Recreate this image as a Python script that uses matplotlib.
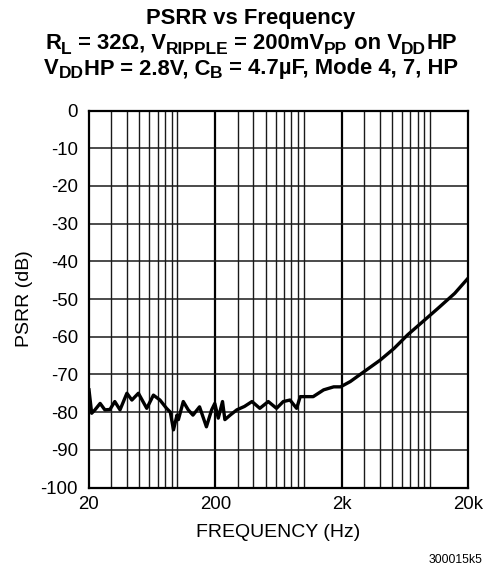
import numpy as np
import matplotlib
matplotlib.use("Agg")
import matplotlib.pyplot as plt
from matplotlib.ticker import FixedLocator, NullFormatter

# === DATA ===
freq_hz = [20, 21, 22.3, 24.5, 26.7, 29.3, 32, 35.2, 39.9, 43.7, 49.2, 57.3, 64.7,
           72.9, 82.2, 88, 93.3, 99.4, 102, 111.5, 122, 133, 150, 170, 187, 198,
           211, 228, 238, 262, 296, 340, 390, 450, 525, 610, 690, 780, 880, 940,
           1090, 1190, 1440, 1730, 1960, 2340, 3000, 4040, 5200, 6660, 8500,
           11550, 15700, 20000]
psrr_db = [-74.1, -80.3, -79.4, -77.7, -79.4, -79.3, -77.2, -79.4, -75.0, -76.8,
           -75.0, -79.0, -75.5, -76.8, -79.0, -80.0, -84.7, -80.8, -82.0, -77.2,
           -79.4, -80.8, -78.6, -83.9, -79.4, -77.7, -81.6, -77.2, -82.0, -80.8,
           -79.4, -78.5, -77.2, -79.0, -77.2, -79.0, -77.2, -76.8, -79.0, -75.9,
           -75.9, -75.9, -74.1, -73.3, -73.3, -71.9, -69.3, -66.2, -63.1, -59.5,
           -56.4, -52.5, -48.5, -44.5]

x_ticks = [20, 200, 2000, 20000]
x_ticklabels = ["20", "200", "2k", "20k"]
y_ticks = list(range(-100, 1, 10))

title_lines = [
    [("PSRR vs Frequency", False)],
    [("R", False), ("L", True), (" = 32Ω, V", False), ("RIPPLE", True),
     (" = 200mV", False), ("PP", True), (" on V", False), ("DD", True), ("HP", False)],
    [("V", False), ("DD", True), ("HP = 2.8V, C", False), ("B", True),
     (" = 4.7µF, Mode 4, 7, HP", False)],
]

# === STYLE ===
plt.rcParams["font.family"] = ["Liberation Sans", "DejaVu Sans"]

fig = plt.figure(figsize=(4.95, 5.8), dpi=100)
ax = fig.add_axes([89 / 495, 1 - 487.5 / 580, (468 - 89) / 495, (487.5 - 110.5) / 580])

ax.set_xscale("log")
ax.set_xlim(20, 20000)
ax.set_ylim(-100, 0)

# grid: 200 / 2k thicker, other log lines thinner
minor_lines = [m * 10 ** e for e in range(1, 5) for m in range(1, 10)
               if 20 < m * 10 ** e < 20000 and m * 10 ** e not in x_ticks]
for f in minor_lines:
    ax.axvline(f, color="#1a1a1a", lw=1.0, zorder=1)
for f in x_ticks[1:-1]:
    ax.axvline(f, color="black", lw=1.6, zorder=1)
for y in y_ticks[1:-1]:
    ax.axhline(y, color="#1a1a1a", lw=1.1, zorder=1)

ax.plot(freq_hz, psrr_db, color="black", lw=2.4, zorder=3, solid_joinstyle="round")

ax.xaxis.set_major_locator(FixedLocator(x_ticks))
ax.set_xticklabels(x_ticklabels)
ax.xaxis.set_minor_formatter(NullFormatter())
ax.xaxis.set_minor_locator(FixedLocator([]))
ax.set_yticks(y_ticks)
ax.set_yticklabels([str(v) for v in y_ticks])
ax.tick_params(axis="both", length=0, labelsize=13.4)
ax.tick_params(axis="x", pad=6)
ax.tick_params(axis="y", pad=8)

for s in ax.spines.values():
    s.set_linewidth(1.6)
    s.set_zorder(4)

ax.set_xlabel("FREQUENCY (Hz)", fontsize=14, labelpad=8)
ax.set_ylabel("PSRR (dB)", fontsize=14, labelpad=5)


# === TITLE (pieces laid out by hand so subscripts can be sized freely) ===
def rich_line(y_px, pieces, size, sub_size, xc_px=251):
    renderer = fig.canvas.get_renderer()
    texts = [fig.text(0, 0, s, fontsize=sub_size if sub else size, fontweight="bold",
                      ha="left", va="baseline") for s, sub in pieces]
    widths = [t.get_window_extent(renderer).width for t in texts]
    x = xc_px - sum(widths) / 2
    for (s, sub), t, w in zip(pieces, texts, widths):
        yy = y_px + (4.5 if sub else 0)
        t.set_position((x / 495, 1 - yy / 580))
        x += w


rich_line(24, title_lines[0], 15.8, 12.5)
rich_line(49, title_lines[1], 15.8, 12.5)
rich_line(74, title_lines[2], 15.8, 12.5)

fig.text(482 / 495, 1 - 560 / 580, "300015k5", ha="right", va="center", fontsize=8.8)

fig.savefig("out.png", dpi=100)
